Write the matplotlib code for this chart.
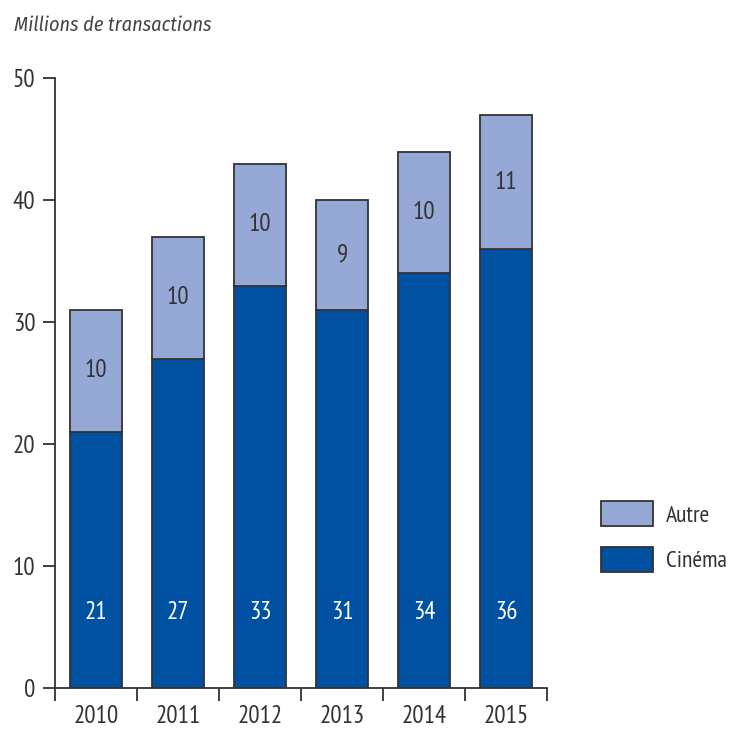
import matplotlib
matplotlib.use('Agg')
import matplotlib.pyplot as plt
import numpy as np

###############################
# data
###############################
years = ['2010', '2011', '2012', '2013', '2014', '2015']
cinema = [21, 27, 33, 31, 34, 36]
autre = [10, 10, 10, 9, 10, 11]
yticks = [0, 10, 20, 30, 40, 50]

col_cinema = '#0051a2'
col_autre = '#95a8d6'
col_edge = '#333333'
col_text = '#333333'

plt.rcParams['font.family'] = ['PT Sans Narrow', 'Fira Sans Condensed', 'DejaVu Sans']

fig = plt.figure(figsize=(7.29, 7.31), dpi=100)
ax = fig.add_axes([0.0754, 0.0588, 0.675, 0.834])

x = np.arange(len(years))
w = 0.63
b1 = ax.bar(x, cinema, w, color=col_cinema, edgecolor=col_edge, linewidth=1.3, label='Cinéma')
b2 = ax.bar(x, autre, w, bottom=cinema, color=col_autre, edgecolor=col_edge, linewidth=1.3, label='Autre')

# value labels inside the bars
for i in range(len(years)):
    ax.text(x[i], 6.2, str(cinema[i]), color='white', ha='center', va='center', fontsize=18)
    ax.text(x[i], cinema[i] + autre[i] / 2.0, str(autre[i]), color=col_text,
            ha='center', va='center', fontsize=18)

ax.set_xlim(-0.5, len(years) - 0.5)
ax.set_ylim(0, 50)
ax.set_yticks(yticks)
ax.set_yticklabels([str(t) for t in yticks])
ax.set_xticks(x)
ax.set_xticklabels(years)
ax.set_xticks(np.arange(-0.5, len(years)), minor=True)

for s in ['top', 'right']:
    ax.spines[s].set_visible(False)
for s in ['left', 'bottom']:
    ax.spines[s].set_color(col_edge)
    ax.spines[s].set_linewidth(1.3)

ax.tick_params(axis='x', which='major', length=0, pad=12, labelsize=18, labelcolor=col_text)
ax.tick_params(axis='x', which='minor', length=9, width=1.3, color=col_edge)
ax.tick_params(axis='y', length=9, width=1.3, color=col_edge, pad=5, labelsize=18, labelcolor=col_text)

fig.text(0.019, 0.965, 'Millions de transactions', fontsize=14.5, style='italic',
         family=['Fira Sans Condensed', 'PT Sans Narrow', 'DejaVu Sans'],
         color='#444444', ha='left', va='center')

handles = [b2, b1]
leg = fig.legend(handles, ['Autre', 'Cinéma'], loc='center left',
                 bbox_to_anchor=(0.824, 0.266), frameon=False, fontsize=17,
                 handlelength=2.2, handleheight=1.3, labelspacing=0.85,
                 handletextpad=0.55, borderpad=0, borderaxespad=0)
for t in leg.get_texts():
    t.set_color(col_text)

plt.savefig('out.png', dpi=100)
